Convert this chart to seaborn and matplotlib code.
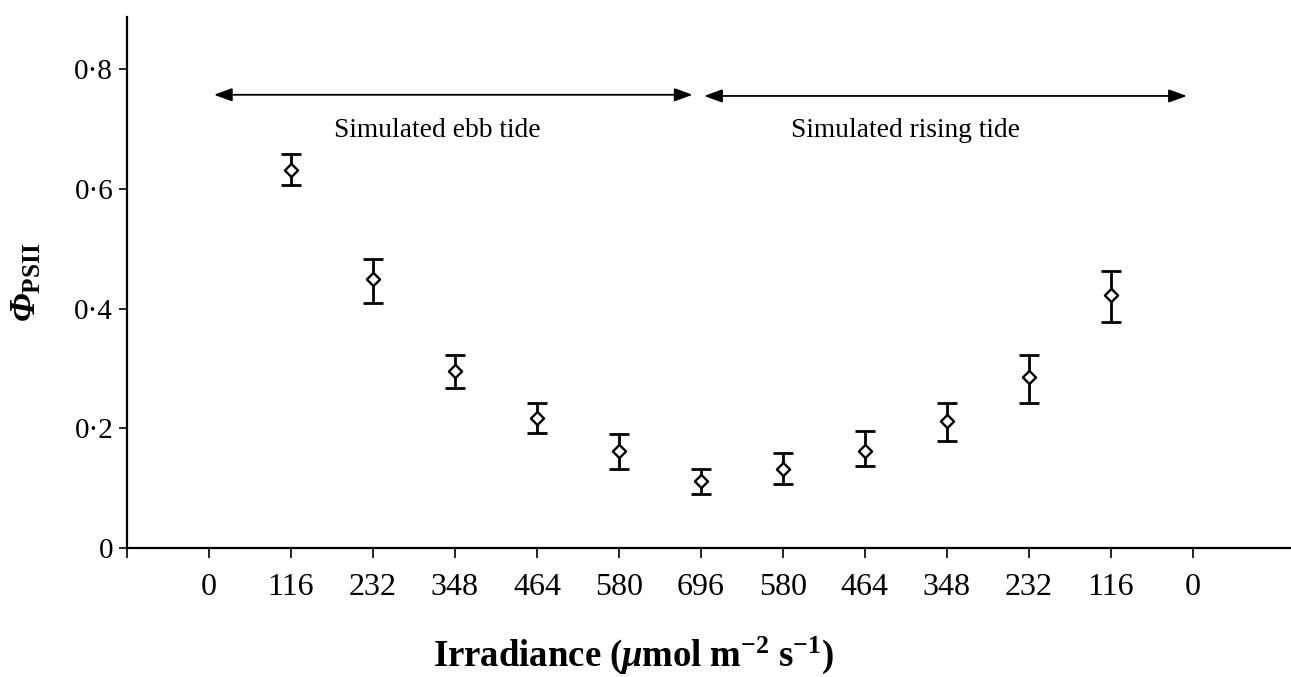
import matplotlib
matplotlib.use("Agg")
import matplotlib.pyplot as plt
import seaborn as sns
import numpy as np
import pandas as pd
from matplotlib.ticker import FuncFormatter

# ---- data ----
tick_labels = ["0", "116", "232", "348", "464", "580", "696", "580", "464", "348", "232", "116", "0"]
positions = [1, 2, 3, 4, 5, 6, 7, 8, 9, 10, 11]
phi_psii = [0.632, 0.450, 0.295, 0.217, 0.162, 0.112, 0.132, 0.162, 0.212, 0.285, 0.422]
err_low = [0.607, 0.410, 0.268, 0.192, 0.132, 0.090, 0.107, 0.137, 0.178, 0.242, 0.378]
err_high = [0.658, 0.483, 0.322, 0.243, 0.190, 0.132, 0.158, 0.195, 0.242, 0.323, 0.463]
phase_labels = ["Simulated ebb tide", "Simulated rising tide"]

df = pd.DataFrame({"pos": positions, "phi": phi_psii, "lo": err_low, "hi": err_high})

sns.set_style("ticks")
plt.rcParams["font.family"] = ["Liberation Serif", "DejaVu Serif"]
plt.rcParams["mathtext.fontset"] = "custom"
plt.rcParams["mathtext.rm"] = "Liberation Serif"
plt.rcParams["mathtext.it"] = "Liberation Serif:italic"
plt.rcParams["mathtext.bf"] = "Liberation Serif:bold"
plt.rcParams["mathtext.bfit"] = "Liberation Serif:italic:bold"
plt.rcParams["text.color"] = "black"
plt.rcParams["axes.labelcolor"] = "black"
plt.rcParams["xtick.color"] = "black"
plt.rcParams["ytick.color"] = "black"

fig = plt.figure(figsize=(12.91, 6.77), dpi=100)
ax = fig.add_axes([0.0984, 0.1905, 0.9016, 0.7845])

# error bars
yerr = np.vstack([df["phi"] - df["lo"], df["hi"] - df["phi"]])
ax.errorbar(df["pos"], df["phi"], yerr=yerr, fmt="none", ecolor="black",
            elinewidth=2.0, capsize=7.5, capthick=2.0, zorder=2)
sns.scatterplot(data=df, x="pos", y="phi", marker="D", s=45, color="white",
                edgecolor="black", linewidth=1.7, ax=ax, zorder=3, legend=False)

ax.set_xlim(-1, 13.2)
ax.set_ylim(0, 0.887)
ax.set_xticks([-1] + list(range(13)))
ax.set_xticklabels([""] + tick_labels, fontsize=23)
ax.set_yticks([0, 0.2, 0.4, 0.6, 0.8])
ax.yaxis.set_major_formatter(FuncFormatter(lambda v, p: "0" if v == 0 else f"{v:.1f}".replace(".", "\u00b7")))
ax.tick_params(axis="y", labelsize=21, length=6, width=1.2, pad=4, direction="out")
ax.tick_params(axis="x", length=7, width=1.2, pad=11, direction="out")

for s in ["top", "right"]:
    ax.spines[s].set_visible(False)
for s in ["left", "bottom"]:
    ax.spines[s].set_linewidth(1.6)
    ax.spines[s].set_color("black")

# phase arrows
arrow_style = "<|-|>,head_length=1.1,head_width=0.4"
ax.annotate("", xy=(0.06, 0.757), xytext=(5.9, 0.757),
            arrowprops=dict(arrowstyle=arrow_style, color="black", lw=1.3, shrinkA=0, shrinkB=0))
ax.annotate("", xy=(6.04, 0.755), xytext=(11.93, 0.755),
            arrowprops=dict(arrowstyle=arrow_style, color="black", lw=1.3, shrinkA=0, shrinkB=0))
ax.text(2.79, 0.697, phase_labels[0], ha="center", va="center", fontsize=19.8)
ax.text(8.5, 0.697, phase_labels[1], ha="center", va="center", fontsize=19.8)

ax.set_xlabel(r"$\mathbf{Irradiance\ (}\mathbfit{\mu}\mathbf{mol\ m^{-2}\ s^{-1})}$", fontsize=26.5)
ax.xaxis.set_label_coords(0.435, -0.2015)
ax.xaxis.label.set_va("center")
ax.set_ylabel(r"$\mathbfit{\Phi}_{\mathbf{PSII}}$", fontsize=26, labelpad=22)

fig.savefig("out.png", dpi=100)
